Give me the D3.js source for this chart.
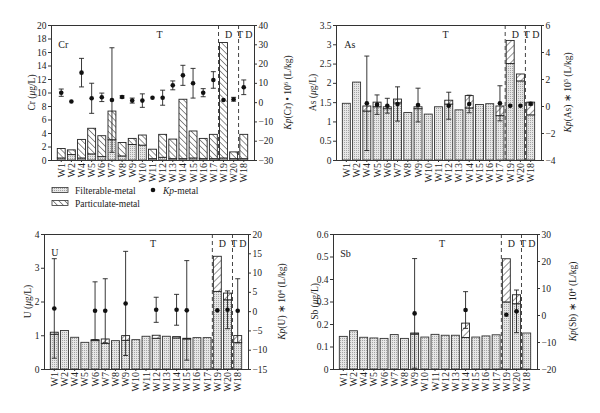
<!DOCTYPE html>
<html><head><meta charset="utf-8">
<script src="https://cdn.jsdelivr.net/npm/d3@7"></script>
<style>body{margin:0;background:#fff}svg{display:block}text{font-family:"Liberation Serif","Times New Roman",serif}</style>
</head><body><svg id="c" width="600" height="413"></svg>
<script>
const categories = ["W1","W2","W4","W5","W6","W7","W8","W9","W10","W11","W12","W13","W14","W15","W16","W17","W19","W20","W18"];

// Cr
const crFilterable  = [0.3,0.8,0.3,0.9,0.5,3.0,0.6,2.3,2.2,0.2,0.4,0.2,0.2,0.3,0.2,0.2,0.3,0.2,0.2];
const crParticulate = [1.4,0.7,2.75,3.8,3.1,4.25,2.0,0.9,1.5,1.4,3.4,2.9,8.8,4.0,3.0,3.6,17.1,1.0,3.6];
const crKp    = [4.9,0.3,15.3,2.0,2.5,1.1,2.7,0.8,0.8,2.3,2.3,8.7,13.9,9.8,4.9,11.5,1.1,1.5,7.7];
const crKpErr = [1.9,0,7.4,7.8,2.2,27.1,0.6,1.3,3.5,0,3.9,2.3,5.2,7.7,2.1,4.3,0,1.0,3.8];
const crLeftTicks  = [0,2,4,6,8,10,12,14,16,18,20];
const crRightTicks = [-30,-20,-10,0,10,20,30,40];

// As
const asFilterable  = [1.47,2.02,1.27,1.38,1.33,1.48,1.23,1.33,1.19,1.38,1.45,1.30,1.35,1.44,1.46,1.15,2.50,2.05,1.17];
const asParticulate = [0,0,0.13,0.12,0.05,0.10,0,0.05,0,0,0.10,0,0.32,0,0,0.25,0.60,0.18,0.33];
const asKp    = [null,null,0.2,0.1,0.02,0.15,null,0.07,null,null,0.02,null,0.15,null,null,0.2,0.02,0.02,0.17];
const asKpErr = [0,0,3.5,0.72,0.55,1.27,0,1.25,0,0,1.0,0,0.65,0,0,1.3,0,0,0.1];
const asLeftTicks  = [0,0.5,1,1.5,2,2.5,3,3.5];
const asRightTicks = [-4,-2,0,2,4,6];

// U
const uFilterable  = [1.03,1.14,0.94,0.79,0.84,0.76,0.84,0.85,0.87,0.97,0.91,0.97,0.92,0.89,0.93,0.93,2.30,2.05,0.78];
const uParticulate = [0.06,0,0,0,0.03,0.13,0,0.14,0,0,0.09,0,0.04,0.02,0,0,1.04,0.20,0.21];
const uKp    = [0.7,null,null,null,0.1,0.1,null,2.0,null,null,0.35,null,0.35,0.2,null,null,0.2,0.35,0.1];
const uKpErr = [12.9,0,0,0,7.5,8.3,0,13.5,0,0,3.25,0,4.0,12.9,0,0,0,4.9,8.3];
const uLeftTicks  = [0,1,2,3,4];
const uRightTicks = [-15,-10,-5,0,5,10,15,20];

// Sb
const sbFilterable  = [0.145,0.170,0.141,0.138,0.136,0.153,0.136,0.155,0.142,0.154,0.150,0.150,0.140,0.142,0.147,0.152,0.298,0.290,0.160];
const sbParticulate = [0,0,0,0,0,0,0,0.005,0,0,0,0,0.064,0,0,0,0.192,0.04,0];
const sbKp    = [null,null,null,null,null,null,null,0.6,null,null,null,null,1.85,null,null,null,0.1,1.35,null];
const sbKpErr = [0,0,0,0,0,0,0,20.3,0,0,0,0,6.8,0,0,0,0,7.9,0];
const sbLeftTicks  = [0,0.1,0.2,0.3,0.4,0.5,0.6];
const sbRightTicks = [-20,-10,0,10,20,30];

const svg = d3.select("#c");
const defs = svg.append("defs");
const dp = defs.append("pattern").attr("id","dots").attr("width",2).attr("height",2).attr("patternUnits","userSpaceOnUse");
dp.append("rect").attr("width",2).attr("height",2).attr("fill","#e6e6e6");
dp.append("rect").attr("width",1).attr("height",1).attr("fill","#a4a4a4");
function hatch(id, ang, w){
  const p = defs.append("pattern").attr("id",id).attr("width",w).attr("height",w)
    .attr("patternUnits","userSpaceOnUse").attr("patternTransform",`rotate(${ang})`);
  p.append("rect").attr("width",w).attr("height",w).attr("fill","#fff");
  p.append("line").attr("x1",0).attr("y1",0).attr("x2",0).attr("y2",w).attr("stroke","#222").attr("stroke-width",1);
}
hatch("hB",-45,4.2);
hatch("hF",45,5);

function panel(cfg){
  const {L,R,T,B} = cfg;
  const g = svg.append("g");
  const x = d3.scaleBand().domain(categories).range([L,R]).paddingInner(0.22).paddingOuter(0.62);
  const yL = d3.scaleLinear().domain(cfg.leftDomain).range([B,T]);
  const yR = d3.scaleLinear().domain(cfg.rightDomain).range([B,T]);
  const bw = x.bandwidth();
  const rows = categories.map((c,i)=>({c,f:cfg.filt[i],p:cfg.part[i],k:cfg.kp[i],e:cfg.err[i]}));

  // bars
  g.selectAll(".bf").data(rows).join("rect")
    .attr("x",d=>x(d.c)).attr("width",bw)
    .attr("y",d=>yL(d.f)).attr("height",d=>yL(0)-yL(d.f))
    .attr("fill","url(#dots)").attr("stroke","#333").attr("stroke-width",0.9);
  g.selectAll(".bp").data(rows.filter(d=>d.p>0)).join("rect")
    .attr("x",d=>x(d.c)).attr("width",bw)
    .attr("y",d=>yL(d.f+d.p)).attr("height",d=>yL(d.f)-yL(d.f+d.p))
    .attr("fill",`url(#${cfg.hatch})`).attr("stroke","#222").attr("stroke-width",0.9);

  // dashed separators
  const xs = [x("W19")-1, x("W20")+bw+1];
  g.selectAll(".sep").data(xs).join("line")
    .attr("x1",d=>d).attr("x2",d=>d).attr("y1",T).attr("y2",B)
    .attr("stroke","#444").attr("stroke-width",1).attr("stroke-dasharray","4,3");

  // frame top
  g.append("line").attr("x1",L).attr("x2",R).attr("y1",T+0.5).attr("y2",T+0.5).attr("stroke","#333");

  // axes
  const fmt = d3.format("~g");
  const styleAxis = a => { a.select(".domain").attr("stroke","#333"); a.selectAll(".tick line").attr("stroke","#333");
    a.selectAll("text").attr("fill","#222").style("font-size","9.5px").style("font-family","Liberation Serif"); };
  g.append("g").attr("transform",`translate(${L},0)`)
    .call(d3.axisLeft(yL).tickValues(cfg.leftTicks).tickFormat(fmt).tickSize(3).tickPadding(1.5).tickSizeOuter(0)).call(styleAxis);
  g.append("g").attr("transform",`translate(${R},0)`)
    .call(d3.axisRight(yR).tickValues(cfg.rightTicks).tickFormat(fmt).tickSize(3).tickPadding(1.5).tickSizeOuter(0)).call(styleAxis);
  const ab = g.append("g").attr("transform",`translate(0,${B})`)
    .call(d3.axisBottom(x).tickSize(2).tickSizeOuter(0)).call(styleAxis);
  ab.select(".domain").attr("d",`M${L},0.5H${R}`);
  ab.selectAll("text").attr("transform","rotate(-90)").attr("x",-3).attr("y",0).attr("dy","0.35em")
    .style("text-anchor","end").style("font-size","10px");

  // error bars & dots
  const kr = rows.filter(d=>d.k!==null);
  const eb = kr.filter(d=>d.e>0);
  const cx = d=>x(d.c)+bw/2;
  g.selectAll(".ev").data(eb).join("line").attr("x1",cx).attr("x2",cx)
    .attr("y1",d=>yR(d.k-d.e)).attr("y2",d=>yR(d.k+d.e)).attr("stroke","#222").attr("stroke-width",0.9);
  ["-","+"].forEach(s=>{
    g.selectAll(".ec"+(s=="-"?"l":"h")).data(eb).join("line")
      .attr("x1",d=>cx(d)-2.5).attr("x2",d=>cx(d)+2.5)
      .attr("y1",d=>yR(s=="-"?d.k-d.e:d.k+d.e)).attr("y2",d=>yR(s=="-"?d.k-d.e:d.k+d.e))
      .attr("stroke","#222").attr("stroke-width",0.9);
  });
  g.selectAll(".dot").data(kr).join("circle").attr("cx",cx).attr("cy",d=>yR(d.k)).attr("r",2.3).attr("fill","#111");

  // labels
  const lab = (tx,ty,s,anchor)=>g.append("text").attr("x",tx).attr("y",ty).attr("text-anchor",anchor||"middle")
    .style("font-size","10px").attr("fill","#222").text(s);
  const step = x.step();
  lab(x("W11")+bw/2+0.7*step, T+13, "T");
  lab((x("W19")+x("W20")+bw)/2, T+13, "D");
  lab(x("W18")+bw/2+1, T+13, "T D");
  lab(x("W1")+bw/2+cfg.nameDx, T+cfg.nameDy, cfg.name, "start");

  // axis titles
  const lt = g.append("text").attr("transform",`translate(${cfg.ltx},${(T+B)/2}) rotate(-90)`)
    .attr("text-anchor","middle").style("font-size","9.5px").attr("fill","#222");
  lt.append("tspan").text(cfg.name+" (");
  lt.append("tspan").style("font-style","italic").text("μ");
  lt.append("tspan").text("g/L)");
  const rt = g.append("text").attr("transform",`translate(${cfg.rtx},${(T+B)/2}) rotate(-90)`)
    .attr("text-anchor","middle").style("font-size","9.5px").attr("fill","#222");
  rt.append("tspan").style("font-style","italic").text("Kp");
  rt.append("tspan").text(`(${cfg.name}) ${cfg.star} 10`);
  rt.append("tspan").attr("dy",-3.5).style("font-size","6.5px").text(cfg.exp);
  rt.append("tspan").attr("dy",3.5).text(" (L/kg)");
}

panel({name:"Cr",L:51,R:254,T:25,B:160,leftDomain:[0,20],rightDomain:[-30,40],leftTicks:crLeftTicks,rightTicks:crRightTicks,
  filt:crFilterable,part:crParticulate,kp:crKp,err:crKpErr,hatch:"hB",ltx:35,rtx:291,star:"•",exp:"6",nameDx:-3,nameDy:23});
panel({name:"As",L:336,R:541,T:25,B:160,leftDomain:[0,3.5],rightDomain:[-4,6],leftTicks:asLeftTicks,rightTicks:asRightTicks,
  filt:asFilterable,part:asParticulate,kp:asKp,err:asKpErr,hatch:"hF",ltx:316,rtx:571,star:"∗",exp:"5",nameDx:-2,nameDy:23});
panel({name:"U",L:44,R:248,T:234,B:369,leftDomain:[0,4],rightDomain:[-15,20],leftTicks:uLeftTicks,rightTicks:uRightTicks,
  filt:uFilterable,part:uParticulate,kp:uKp,err:uKpErr,hatch:"hF",ltx:31,rtx:285,star:"∗",exp:"4",nameDx:-3,nameDy:22});
panel({name:"Sb",L:333,R:537,T:234,B:369,leftDomain:[0,0.6],rightDomain:[-20,30],leftTicks:sbLeftTicks,rightTicks:sbRightTicks,
  filt:sbFilterable,part:sbParticulate,kp:sbKp,err:sbKpErr,hatch:"hF",ltx:318,rtx:576,star:"∗",exp:"4",nameDx:-3,nameDy:23});

// legend
const lg = svg.append("g");
lg.append("rect").attr("x",52).attr("y",187.5).attr("width",16).attr("height",5).attr("fill","url(#dots)").attr("stroke","#333").attr("stroke-width",0.8);
lg.append("text").attr("x",75).attr("y",193.5).style("font-size","9.5px").attr("fill","#222").text("Filterable-metal");
lg.append("circle").attr("cx",153).attr("cy",190).attr("r",2.3).attr("fill","#111");
const kt = lg.append("text").attr("x",163).attr("y",193.5).style("font-size","9.5px").attr("fill","#222");
kt.append("tspan").style("font-style","italic").text("Kp");
kt.append("tspan").text("-metal");
lg.append("rect").attr("x",52).attr("y",200.5).attr("width",16).attr("height",5).attr("fill","url(#hB)").attr("stroke","#333").attr("stroke-width",0.8);
lg.append("text").attr("x",75).attr("y",206.5).style("font-size","9.5px").attr("fill","#222").text("Particulate-metal");
</script></body></html>
